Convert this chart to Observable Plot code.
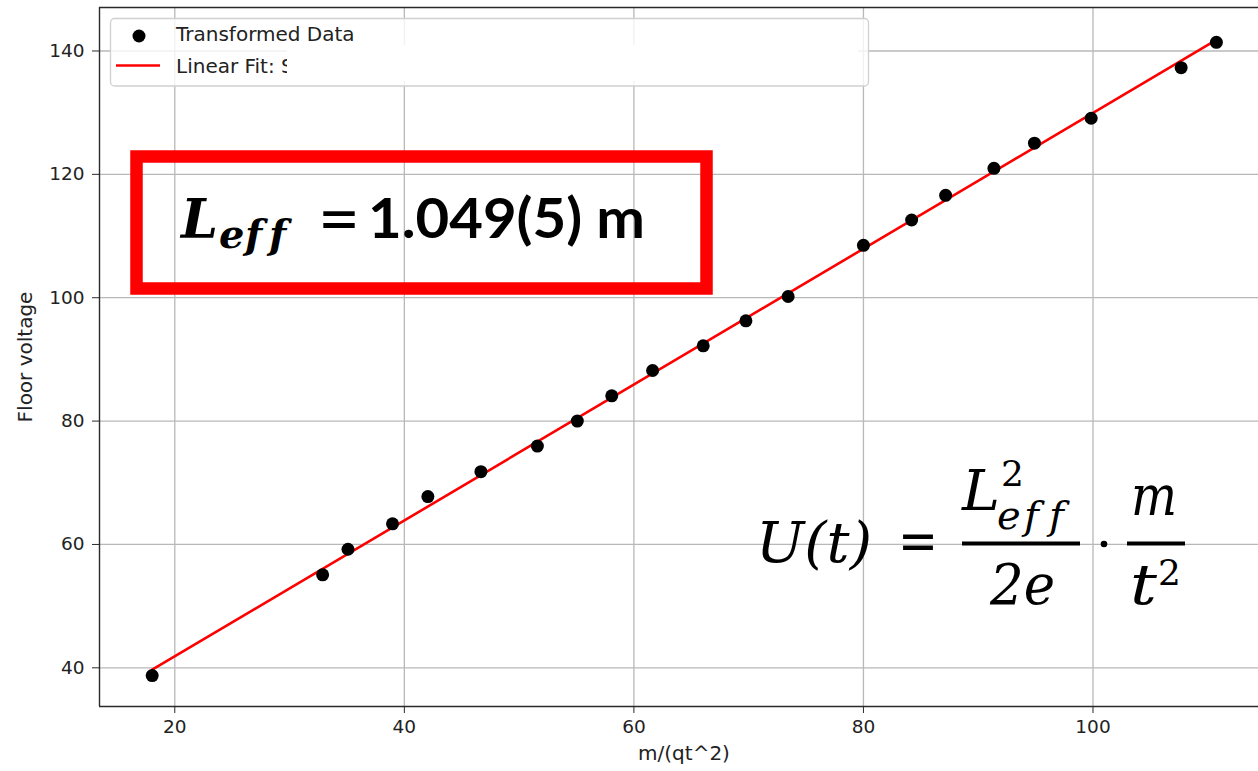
<!DOCTYPE html>
<html>
<head>
<meta charset="utf-8">
<script src="https://cdn.jsdelivr.net/npm/d3@7"></script>
<script src="https://cdn.jsdelivr.net/npm/@observablehq/plot@0.6"></script>
<style>
  html, body { margin: 0; padding: 0; background: #fff; }
  #wrap { position: relative; width: 1258px; height: 771px; overflow: hidden; background: #fff; }
  #wrap > svg { position: absolute; left: 0; top: 0; }
  #overlay { pointer-events: none; font-variant-ligatures: none; }
</style>
</head>
<body>
<div id="wrap"></div>
<script>
// ---- data ----
const xValues = [18.03, 32.88, 35.09, 38.97, 42.05, 46.67, 51.59, 55.07, 58.07, 61.63, 66.04, 69.76, 73.44, 80.0, 84.2, 87.16, 91.37, 94.9, 99.84, 107.68, 110.75];
const yValues = [38.75, 55.07, 59.22, 63.34, 67.76, 71.8, 75.95, 80.0, 84.1, 88.2, 92.2, 96.25, 100.2, 108.5, 112.6, 116.6, 120.97, 125.05, 129.1, 137.3, 141.4];
const fitX = [18.03, 110.75];
const fitY = [39.7, 141.8];
const xTicks = [20, 40, 60, 80, 100];
const yTicks = [40, 60, 80, 100, 120, 140];
const xDomain = [13.44, 114.42];
const yDomain = [33.73, 147.05];
const xLabel = "m/(qt^2)";
const yLabel = "Floor voltage";
const legendLabels = ["Transformed Data", "Linear Fit: S"];

const points = xValues.map((x, i) => ({x, y: yValues[i]}));
const fit = fitX.map((x, i) => ({x, y: fitY[i]}));

const chart = Plot.plot({
  width: 1258,
  height: 771,
  marginLeft: 99,
  marginRight: 0,
  marginTop: 7,
  marginBottom: 65,
  style: {fontFamily: "DejaVu Sans", fontSize: "18.5px", color: "#222", background: "#fff"},
  x: {domain: xDomain, label: null},
  y: {domain: yDomain, label: null},
  marks: [
    Plot.gridX(xTicks, {stroke: "#b8b8b8", strokeOpacity: 1, strokeWidth: 1.3}),
    Plot.gridY(yTicks, {stroke: "#b8b8b8", strokeOpacity: 1, strokeWidth: 1.3}),
    Plot.ruleX([xDomain[0]], {stroke: "#2a2a2a", strokeWidth: 1.4}),
    Plot.ruleY([yDomain[0]], {stroke: "#2a2a2a", strokeWidth: 1.4}),
    Plot.ruleY([yDomain[1]], {stroke: "#2a2a2a", strokeWidth: 1.4}),
    Plot.axisX(xTicks, {tickSize: 7, tickPadding: 6, label: null, stroke: "#2a2a2a", fill: "#222", fontSize: 18.5}),
    Plot.axisY(yTicks, {tickSize: 7, tickPadding: 8, label: null, stroke: "#2a2a2a", fill: "#222", fontSize: 18.5}),
    Plot.text([yLabel], {frameAnchor: "left", dx: -74, rotate: -90, textAnchor: "middle", lineAnchor: "middle", fontSize: 20, fill: "#222", text: d => d}),
    Plot.text([xLabel], {frameAnchor: "bottom", dx: 5, dy: 47, textAnchor: "middle", lineAnchor: "middle", fontSize: 20, fill: "#222", text: d => d}),
    Plot.line(fit, {x: "x", y: "y", stroke: "#ff0000", strokeWidth: 2.6}),
    Plot.dot(points, {x: "x", y: "y", r: 6.5, fill: "#000", stroke: "none"})
  ]
});
const wrap = document.getElementById("wrap");
wrap.appendChild(chart);

// ---- annotation overlay (legend, boxed result, formula) ----
const NS = "http://www.w3.org/2000/svg";
const ov = document.createElementNS(NS, "svg");
ov.setAttribute("id", "overlay");
ov.setAttribute("width", 1258);
ov.setAttribute("height", 771);
wrap.appendChild(ov);
function el(tag, attrs, txt) {
  const e = document.createElementNS(NS, tag);
  for (const k in attrs) e.setAttribute(k, attrs[k]);
  if (txt != null) e.textContent = txt;
  ov.appendChild(e);
  return e;
}
// legend
el("rect", {x: 110.5, y: 18.5, width: 758, height: 67.5, rx: 4, fill: "#fff", "fill-opacity": 0.8, stroke: "#d0d0d0", "stroke-width": 1.3});
el("circle", {cx: 139, cy: 36, r: 6.5, fill: "#000"});
el("text", {x: 176, y: 41, "font-family": "DejaVu Sans", "font-size": 20, fill: "#222"}, legendLabels[0]);
el("line", {x1: 116, x2: 160, y1: 65.5, y2: 65.5, stroke: "#ff0000", "stroke-width": 2.6});
el("text", {x: 176, y: 72.5, "font-family": "DejaVu Sans", "font-size": 20, fill: "#222"}, legendLabels[1]);
el("rect", {x: 287, y: 45, width: 571, height: 36, fill: "#fff"});

// red boxed result: L_eff = 1.049(5) m
const bi = {"font-family": "DejaVu Serif", "font-style": "italic", "font-weight": "bold", fill: "#000"};
el("rect", {x: 136.5, y: 156.5, width: 570, height: 132, fill: "none", stroke: "#ff0000", "stroke-width": 12.5});
el("text", {...bi, x: 181, y: 238, "font-size": 54, textLength: 37, lengthAdjust: "spacingAndGlyphs"}, "L");
el("text", {...bi, x: 219, y: 248, "font-size": 40}, "e");
el("text", {...bi, x: 245, y: 248, "font-size": 40}, "f");
el("text", {...bi, x: 269, y: 248, "font-size": 40}, "f");
el("text", {x: 318, y: 238, "font-family": "DejaVu Sans", "font-size": 58, fill: "#000", textLength: 42, lengthAdjust: "spacingAndGlyphs"}, "=");
el("text", {x: 368, y: 238, "font-family": "Lato", "font-weight": "bold", "font-size": 56, fill: "#000", textLength: 277, lengthAdjust: "spacingAndGlyphs"}, "1.049(5) m");

// formula U(t) = L_eff^2 / 2e · m / t^2
const it = {"font-family": "DejaVu Serif", "font-style": "italic", fill: "#000"};
const rm = {"font-family": "DejaVu Serif", fill: "#000"};
el("text", {...it, x: 756, y: 562, "font-size": 56, textLength: 116, lengthAdjust: "spacingAndGlyphs"}, "U(t)");
el("text", {...rm, x: 898, y: 560, "font-size": 56, textLength: 40, lengthAdjust: "spacingAndGlyphs"}, "=");
el("text", {...it, x: 962, y: 510, "font-size": 56, textLength: 38, lengthAdjust: "spacingAndGlyphs"}, "L");
el("text", {...rm, x: 1001, y: 486, "font-size": 36}, "2");
el("text", {...it, x: 997, y: 529, "font-size": 40}, "e");
el("text", {...it, x: 1024, y: 529, "font-size": 40}, "f");
el("text", {...it, x: 1049, y: 529, "font-size": 40}, "f");
el("rect", {x: 962, y: 541.5, width: 118, height: 4, fill: "#000"});
el("text", {...it, x: 990, y: 604, "font-size": 56, textLength: 65, lengthAdjust: "spacingAndGlyphs"}, "2e");
el("circle", {cx: 1104, cy: 544, r: 3.3, fill: "#000"});
el("rect", {x: 1127, y: 541.5, width: 58, height: 4, fill: "#000"});
el("text", {...it, x: 1131, y: 515, "font-size": 56, textLength: 46, lengthAdjust: "spacingAndGlyphs"}, "m");
el("text", {...it, x: 1130, y: 604, "font-size": 56, textLength: 27, lengthAdjust: "spacingAndGlyphs"}, "t");
el("text", {...rm, x: 1158, y: 585, "font-size": 36}, "2");
</script>
</body>
</html>
